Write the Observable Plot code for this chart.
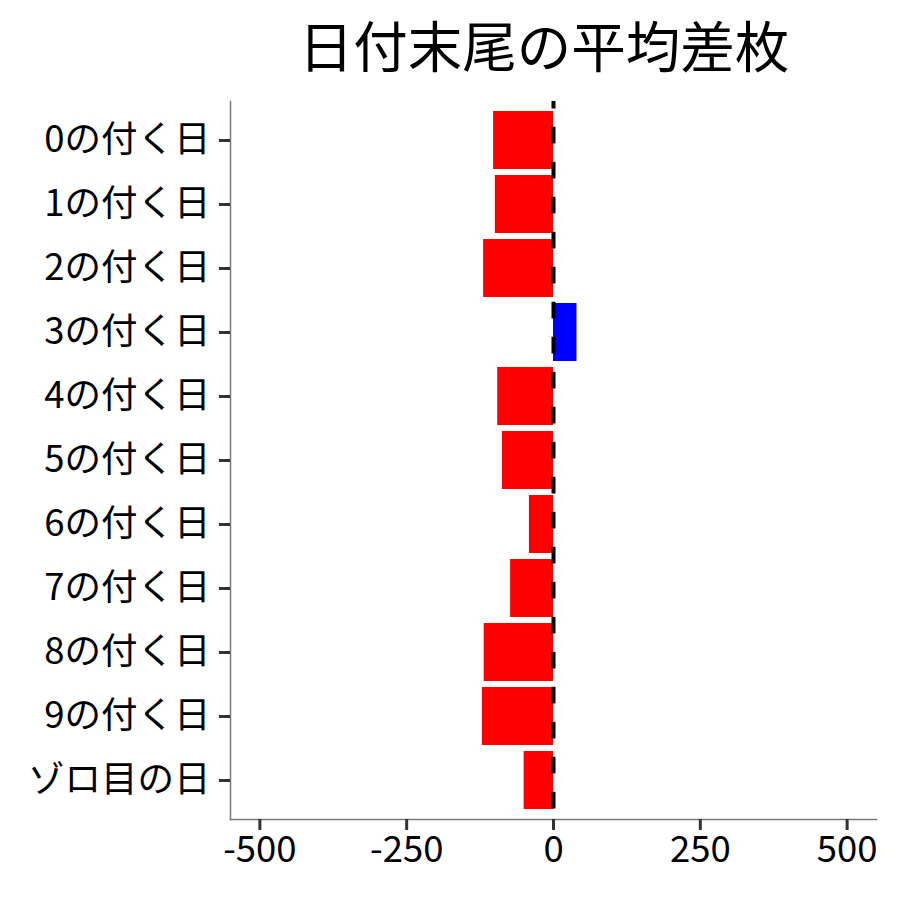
<!DOCTYPE html>
<html>
<head>
<meta charset="utf-8">
<script src="https://cdn.jsdelivr.net/npm/d3@7"></script>
<script src="https://cdn.jsdelivr.net/npm/@observablehq/plot@0.6"></script>
<style>
  body { margin: 0; background: #fff; font-family: "Noto Sans CJK JP", "Noto Sans", sans-serif; }
  #title { width: 900px; height: 85px; line-height: 88px; box-sizing: border-box; padding-left: 188px;
           text-align: center; font-size: 54.5px; color: #000; font-family: "Noto Sans CJK JP", sans-serif; white-space: nowrap; }
</style>
</head>
<body>
<div id="title">日付末尾の平均差枚</div>
<div id="chart"></div>
<script>
const categories = ["0の付く日","1の付く日","2の付く日","3の付く日","4の付く日","5の付く日","6の付く日","7の付く日","8の付く日","9の付く日","ゾロ目の日"];
const values = [-102, -99, -119, 40, -95, -87, -41, -73, -118, -121, -50];
const xTicks = [-500, -250, 0, 250, 500];

const data = categories.map((c, i) => ({label: c, value: values[i]}));

const chart = Plot.plot({
  width: 900,
  height: 815,
  marginTop: 16,
  marginBottom: 81,
  marginLeft: 230,
  marginRight: 24,
  style: {fontFamily: "'Noto Sans CJK JP', sans-serif", background: "#fff"},
  x: {domain: [-550, 550], ticks: xTicks, label: null},
  y: {domain: categories, paddingInner: 0.1, paddingOuter: 0.15, label: null},
  marks: [
    Plot.barX(data, {x: "value", y: "label", fill: d => d.value >= 0 ? "#0000FF" : "#FF0000"}),
    Plot.ruleX([0], {stroke: "#000", strokeWidth: 4, strokeDasharray: "16.7,18.3", strokeDashoffset: 9.3}),
    Plot.frame({anchor: "left", stroke: "#7a7a7a", strokeWidth: 1.5}),
    Plot.frame({anchor: "bottom", stroke: "#7a7a7a", strokeWidth: 1.5}),
    Plot.axisY({tickSize: 11, tickPadding: 9, fontSize: 36.5, stroke: "#333", strokeWidth: 3, color: "#000", label: null}),
    Plot.axisX({ticks: xTicks, tickSize: 11, tickPadding: 6, fontSize: 36.5, stroke: "#333", strokeWidth: 3, color: "#000", label: null, tickFormat: d => String(d)})
  ]
});
document.getElementById("chart").appendChild(chart);
</script>
</body>
</html>
